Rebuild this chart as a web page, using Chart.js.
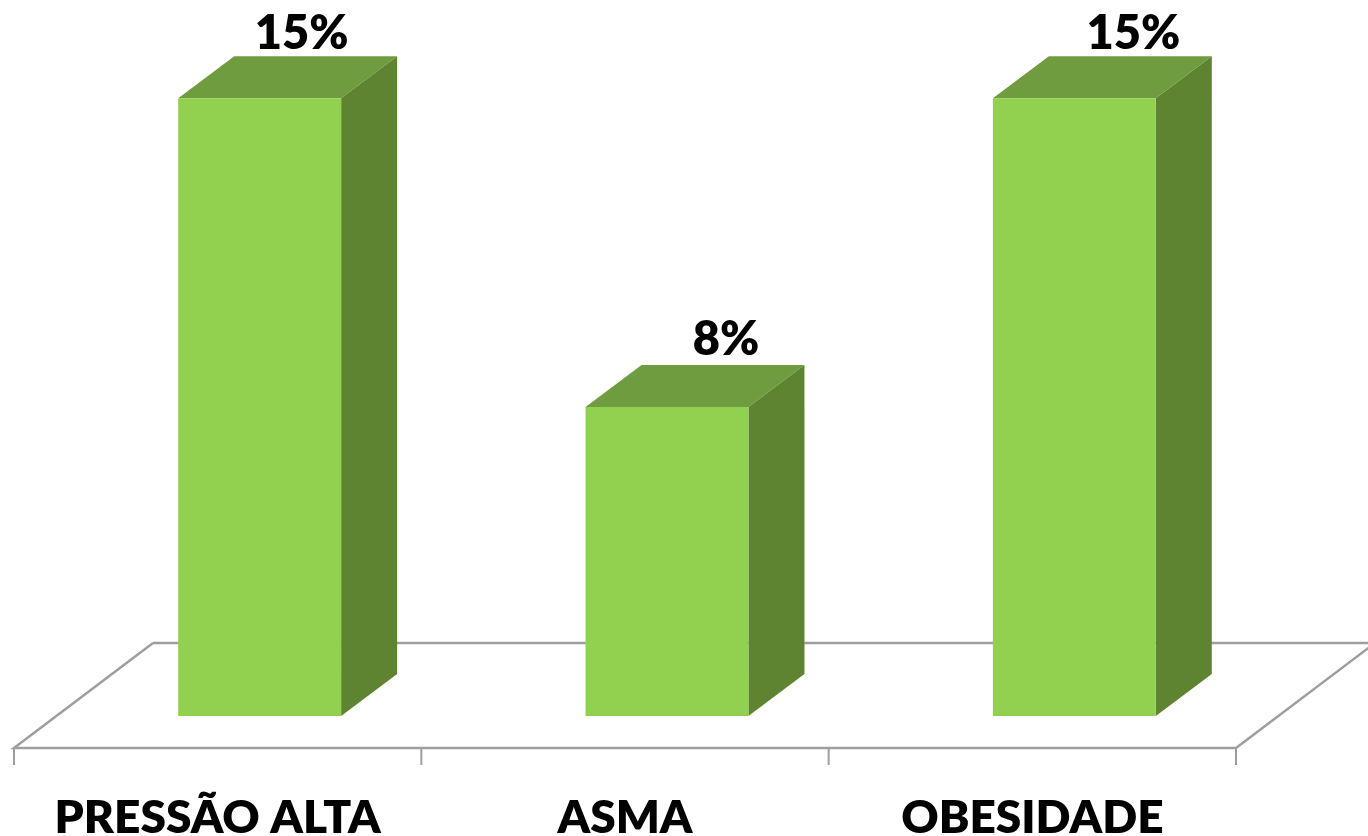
<!DOCTYPE html>
<html lang="pt">
<head>
<meta charset="utf-8">
<title>Pressão alta, asma, obesidade</title>
<script src="https://cdn.jsdelivr.net/npm/chart.js@4/dist/chart.umd.min.js"></script>
<style>
  html, body { margin: 0; padding: 0; background: #fff; }
  canvas { display: block; }
</style>
</head>
<body>
<canvas id="canvas" width="1368" height="836"></canvas>
<script>
const categories = ["PRESSÃO ALTA", "ASMA", "OBESIDADE"];
const values = [15, 7.5, 15];

const fontFamily = "Lato, 'Open Sans', sans-serif";
const lineColor = "#9e9e9e";

// depth of one bar, and of the floor it stands on
const barDepth = { x: 56, y: 42 };
const floorFront = { x: 42, y: 32 };
const floorDepth = { x: 139, y: 105 };
// the value labels do not sit the same way over each bar
const labelShiftX = [42, 59, 59];
const labelShiftY = [49, 52, 49];

//! ------------------------ 3d parts ------------------------

const drawFace = (ctx, color, points) => {
  ctx.fillStyle = color;
  ctx.beginPath();
  points.forEach((p, i) => {
    if (i == 0) ctx.moveTo(p[0], p[1]);
    else ctx.lineTo(p[0], p[1]);
  });
  ctx.closePath();
  ctx.fill();
};

const drawFloor = (chart) => {
  const ctx = chart.ctx;
  const area = chart.chartArea;
  const left = area.left - floorFront.x;
  const right = area.right - floorFront.x;
  const front = area.bottom + floorFront.y;
  const back = front - floorDepth.y;

  ctx.strokeStyle = lineColor;
  ctx.lineWidth = 2.5;
  ctx.beginPath();
  ctx.moveTo(left + floorDepth.x, back);
  ctx.lineTo(right + floorDepth.x, back);
  ctx.moveTo(right + floorDepth.x, back);
  ctx.lineTo(right, front);
  ctx.lineTo(left, front);
  ctx.lineTo(left + floorDepth.x, back);
  ctx.stroke();

  // tick marks under the front edge
  ctx.lineWidth = 2;
  ctx.beginPath();
  const band = (area.right - area.left) / categories.length;
  for (let i = 0; i <= categories.length; i++) {
    ctx.moveTo(left + band * i, front);
    ctx.lineTo(left + band * i, front + 17);
  }
  ctx.stroke();
};

const box3d = {
  id: "box3d",
  beforeDatasetsDraw(chart) {
    const ctx = chart.ctx;
    ctx.save();
    drawFloor(chart);
    chart.getDatasetMeta(0).data.forEach((bar) => {
      const l = bar.x - bar.width / 2;
      const r = bar.x + bar.width / 2;
      const d = barDepth;
      drawFace(ctx, "#6f9c3e", [[l, bar.y], [l + d.x, bar.y - d.y], [r + d.x, bar.y - d.y], [r, bar.y]]);
      drawFace(ctx, "#5f8431", [[r, bar.y], [r + d.x, bar.y - d.y], [r + d.x, bar.base - d.y], [r, bar.base]]);
    });
    ctx.restore();
  },
  afterDatasetsDraw(chart) {
    const ctx = chart.ctx;
    ctx.save();
    ctx.fillStyle = "#000";
    ctx.font = "800 47px " + fontFamily;
    ctx.textAlign = "center";
    ctx.textBaseline = "alphabetic";
    chart.getDatasetMeta(0).data.forEach((bar, i) => {
      ctx.fillText(Math.round(values[i]) + "%", bar.x + labelShiftX[i], bar.y - labelShiftY[i]);
    });
    ctx.restore();
  },
};

//! ------------------------ CHART ------------------------

const myChart = new Chart(document.getElementById("canvas"), {
  type: "bar",
  plugins: [box3d],
  data: {
    labels: categories,
    datasets: [
      {
        data: values,
        backgroundColor: "#92d050",
        barPercentage: 0.4,
        categoryPercentage: 1,
      },
    ],
  },
  options: {
    responsive: false,
    animation: false,
    layout: { padding: { left: 56, right: 90, top: 57, bottom: 0 } },
    plugins: { legend: { display: false }, tooltip: { enabled: false } },
    scales: {
      y: { display: false, min: 0, max: 16 },
      x: {
        grid: { display: false },
        border: { display: false },
        afterFit: (scale) => {
          scale.height = 120;
        },
        ticks: {
          color: "#000",
          font: { family: fontFamily, size: 46, weight: "800" },
          labelOffset: -42,
          padding: 67,
          maxRotation: 0,
          autoSkip: false,
        },
      },
    },
  },
});
</script>
</body>
</html>
